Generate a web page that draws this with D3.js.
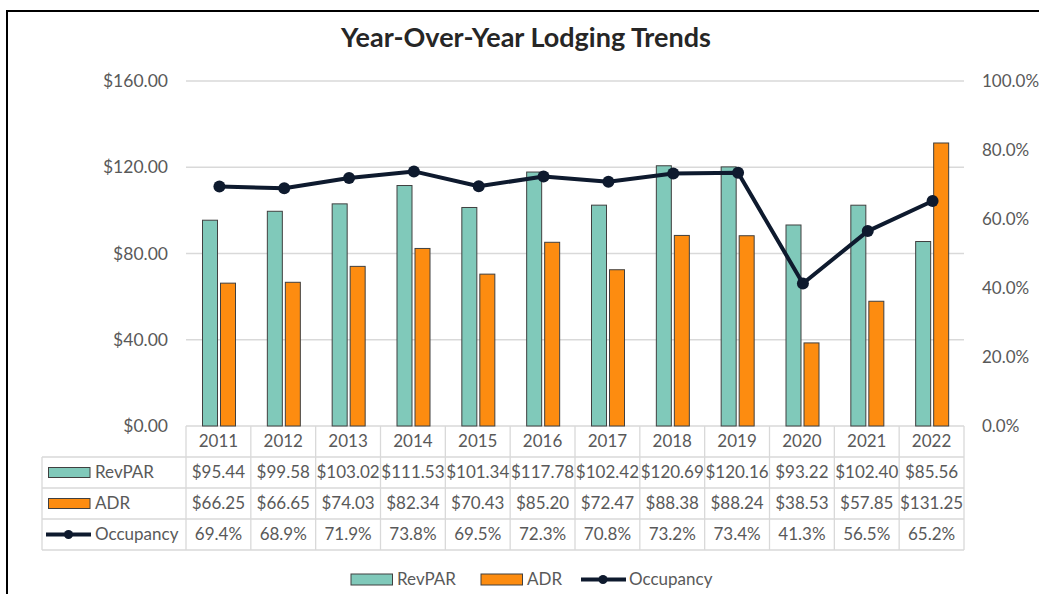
<!DOCTYPE html>
<html>
<head>
<meta charset="utf-8">
<script src="https://cdn.jsdelivr.net/npm/d3@7"></script>
<style>
  html, body { margin: 0; padding: 0; background: #fff; }
  svg { display: block; font-family: Lato, "Open Sans", sans-serif; }
</style>
</head>
<body>
<svg id="chart" width="1039" height="594"></svg>
<script>
const years = ["2011","2012","2013","2014","2015","2016","2017","2018","2019","2020","2021","2022"];
const revpar = [95.44, 99.58, 103.02, 111.53, 101.34, 117.78, 102.42, 120.69, 120.16, 93.22, 102.40, 85.56];
const adr = [66.25, 66.65, 74.03, 82.34, 70.43, 85.20, 72.47, 88.38, 88.24, 38.53, 57.85, 131.25];
const occupancy = [69.4, 68.9, 71.9, 73.8, 69.5, 72.3, 70.8, 73.2, 73.4, 41.3, 56.5, 65.2];
const leftTicks = [0, 40, 80, 120, 160];
const rightTicks = [0, 20, 40, 60, 80, 100];
const seriesNames = ["RevPAR", "ADR", "Occupancy"];

const colors = { RevPAR: "#80c9ba", ADR: "#fd8c10", Occupancy: "#0e1a2e" };
const textColor = "#595959";
const gridColor = "#d9d9d9";

const svg = d3.select("#chart");

// frame
svg.append("rect").attr("x", 7).attr("y", 11).attr("width", 1060).attr("height", 600)
  .attr("fill", "none").attr("stroke", "#000").attr("stroke-width", 2);

// title
svg.append("text").attr("x", 526).attr("y", 47).attr("text-anchor", "middle")
  .attr("font-size", 27).attr("font-weight", "bold").attr("fill", "#262626")
  .text("Year-Over-Year Lodging Trends");

const plot = { left: 186, right: 964, top: 81, bottom: 426 };

const x = d3.scaleBand().domain(years).range([plot.left, plot.right]).padding(0);
const xi = d3.scaleBand().domain(["RevPAR", "ADR"]).range([16.5, 49.5]).paddingInner(1/6);
const yL = d3.scaleLinear().domain([0, 160]).range([plot.bottom, plot.top]);
const yR = d3.scaleLinear().domain([0, 100]).range([plot.bottom, plot.top]);

// gridlines
svg.append("g").selectAll("line").data(leftTicks).join("line")
  .attr("x1", plot.left).attr("x2", plot.right)
  .attr("y1", d => yL(d)).attr("y2", d => yL(d))
  .attr("stroke", gridColor).attr("stroke-width", 1.3);

// left axis labels
const leftAxis = d3.axisLeft(yL).tickValues(leftTicks).tickFormat(d => "$" + d3.format(".2f")(d)).tickSize(0).tickPadding(18);
const gl = svg.append("g").attr("transform", `translate(${plot.left},0)`).call(leftAxis);
gl.select(".domain").remove();
gl.selectAll("text").attr("font-size", 17.5).attr("fill", textColor).attr("font-family", "Lato, sans-serif");

// right axis labels
const rightAxis = d3.axisRight(yR).tickValues(rightTicks).tickFormat(d => d3.format(".1f")(d) + "%").tickSize(0).tickPadding(18);
const gr = svg.append("g").attr("transform", `translate(${plot.right},0)`).call(rightAxis);
gr.select(".domain").remove();
gr.selectAll("text").attr("font-size", 17).attr("fill", textColor).attr("font-family", "Lato, sans-serif");

// bars
const barData = [];
years.forEach((yr, i) => {
  barData.push({ year: yr, key: "RevPAR", value: revpar[i] });
  barData.push({ year: yr, key: "ADR", value: adr[i] });
});
svg.append("g").selectAll("rect").data(barData).join("rect")
  .attr("x", d => x(d.year) + xi(d.key))
  .attr("width", xi.bandwidth())
  .attr("y", d => yL(d.value))
  .attr("height", d => yL(0) - yL(d.value))
  .attr("fill", d => colors[d.key])
  .attr("stroke", "#404040").attr("stroke-width", 1);

// occupancy line
const line = d3.line().x((d, i) => x(years[i]) + x.bandwidth() / 2 + 1).y(d => yR(d));
svg.append("path").datum(occupancy).attr("d", line)
  .attr("fill", "none").attr("stroke", colors.Occupancy).attr("stroke-width", 4)
  .attr("stroke-linejoin", "round");
svg.append("g").selectAll("circle").data(occupancy).join("circle")
  .attr("cx", (d, i) => x(years[i]) + x.bandwidth() / 2 + 1)
  .attr("cy", d => yR(d)).attr("r", 6).attr("fill", colors.Occupancy);

// data table
const table = { left: 42, headerTop: 426, rowH: 31 };
const rowsTop = table.headerTop + table.rowH; // 457
const tableBottom = rowsTop + 3 * table.rowH;
const tg = svg.append("g");
[rowsTop, rowsTop + table.rowH, rowsTop + 2 * table.rowH, tableBottom].forEach(yv => {
  tg.append("line").attr("x1", table.left).attr("x2", plot.right).attr("y1", yv).attr("y2", yv)
    .attr("stroke", gridColor).attr("stroke-width", 1.3);
});
const vx = years.map(yr => x(yr)).concat([plot.right]);
tg.selectAll("line.v").data(vx).join("line").attr("class", "v")
  .attr("x1", d => d).attr("x2", d => d).attr("y1", table.headerTop).attr("y2", tableBottom)
  .attr("stroke", gridColor).attr("stroke-width", 1.3);
tg.append("line").attr("x1", table.left).attr("x2", table.left).attr("y1", rowsTop).attr("y2", tableBottom)
  .attr("stroke", gridColor).attr("stroke-width", 1.3);

tg.selectAll("text.yr").data(years).join("text").attr("class", "yr")
  .attr("x", d => x(d) + x.bandwidth() / 2).attr("y", table.headerTop + table.rowH / 2)
  .attr("dy", "0.35em").attr("text-anchor", "middle")
  .attr("font-size", 17).attr("fill", textColor).text(d => d);

const rowFormats = [
  { name: "RevPAR", vals: revpar, fmt: v => "$" + d3.format(".2f")(v) },
  { name: "ADR", vals: adr, fmt: v => "$" + d3.format(".2f")(v) },
  { name: "Occupancy", vals: occupancy, fmt: v => d3.format(".1f")(v) + "%" }
];
rowFormats.forEach((r, ri) => {
  const cy = rowsTop + ri * table.rowH + table.rowH / 2;
  tg.selectAll(null).data(r.vals).join("text")
    .attr("x", (d, i) => x(years[i]) + x.bandwidth() / 2).attr("y", cy)
    .attr("dy", "0.35em").attr("text-anchor", "middle")
    .attr("font-size", 17).attr("fill", textColor).text(d => r.fmt(d));
  if (r.name === "Occupancy") {
    tg.append("line").attr("x1", 46).attr("x2", 91).attr("y1", cy).attr("y2", cy)
      .attr("stroke", colors.Occupancy).attr("stroke-width", 4);
    tg.append("circle").attr("cx", 68.5).attr("cy", cy).attr("r", 4.5).attr("fill", colors.Occupancy);
  } else {
    tg.append("rect").attr("x", 48.5).attr("y", cy - 5).attr("width", 41.5).attr("height", 10)
      .attr("fill", colors[r.name]).attr("stroke", "#404040").attr("stroke-width", 1);
  }
  tg.append("text").attr("x", 95).attr("y", cy).attr("dy", "0.35em")
    .attr("font-size", 17).attr("fill", textColor).text(r.name);
});

// bottom legend
const lg = svg.append("g");
const legendY = 579.5;
const legendItems = [
  { name: "RevPAR", x0: 351 },
  { name: "ADR", x0: 481 },
  { name: "Occupancy", x0: 581 }
];
legendItems.forEach(it => {
  if (it.name === "Occupancy") {
    lg.append("line").attr("x1", it.x0).attr("x2", it.x0 + 45).attr("y1", legendY).attr("y2", legendY)
      .attr("stroke", colors.Occupancy).attr("stroke-width", 4);
    lg.append("circle").attr("cx", it.x0 + 22).attr("cy", legendY).attr("r", 4.5).attr("fill", colors.Occupancy);
    lg.append("text").attr("x", it.x0 + 48).attr("y", legendY).attr("dy", "0.35em")
      .attr("font-size", 17).attr("fill", textColor).text(it.name);
  } else {
    lg.append("rect").attr("x", it.x0).attr("y", legendY - 5.5).attr("width", 41.5).attr("height", 11)
      .attr("fill", colors[it.name]).attr("stroke", "#404040").attr("stroke-width", 1);
    lg.append("text").attr("x", it.x0 + 46).attr("y", legendY).attr("dy", "0.35em")
      .attr("font-size", 17).attr("fill", textColor).text(it.name);
  }
});
</script>
</body>
</html>
